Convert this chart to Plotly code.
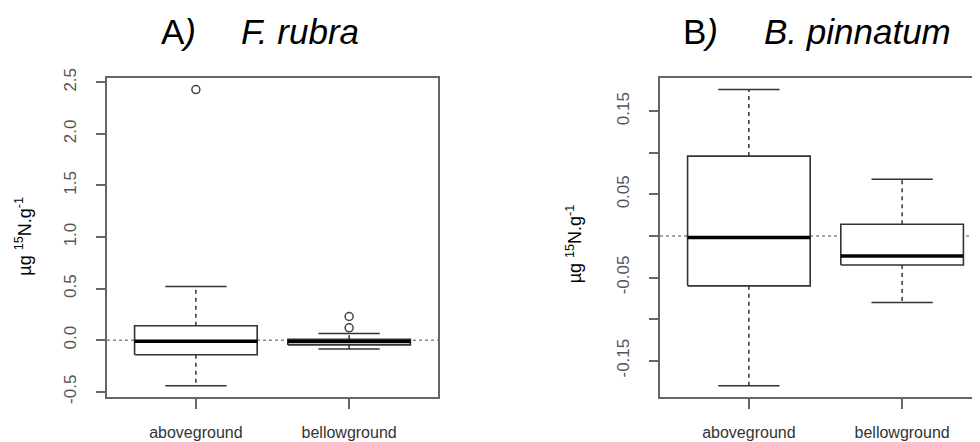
import plotly.graph_objects as go

# ---------------- data ----------------
categories = ["aboveground", "bellowground"]

# Panel A: F. rubra
a_lower = [-0.44, -0.085]
a_q1 = [-0.14, -0.045]
a_median = [-0.01, -0.012]
a_q3 = [0.14, 0.01]
a_upper = [0.52, 0.065]
a_outliers = [[2.43], [0.12, 0.23]]

# Panel B: B. pinnatum
b_lower = [-0.180, -0.080]
b_q1 = [-0.060, -0.035]
b_median = [-0.002, -0.024]
b_q3 = [0.096, 0.014]
b_upper = [0.176, 0.068]
b_outliers = [[], []]

a_tickvals = [-0.5, 0.0, 0.5, 1.0, 1.5, 2.0, 2.5]
a_ticktext = ["-0.5", "0.0", "0.5", "1.0", "1.5", "2.0", "2.5"]
b_tickvals = [-0.15, -0.05, 0.05, 0.15]
b_ticktext = ["-0.15", "-0.05", "0.05", "0.15"]
b_minor_step = 0.05

title_a = ("A<i>)</i>", "<i>F. rubra</i>")
title_b = ("B<i>)</i>", "<i>B. pinnatum</i>")
ytitle = "µg <sup>15</sup>N.g<sup>-1</sup>"

# ---------------- style ----------------
PAGE_W, PAGE_H = 980, 442
OFF = 8  # default body margin of the page
W, H = PAGE_W - OFF, PAGE_H - OFF
FONT = "Liberation Sans, Arial, sans-serif"
BOXC = "#333333"
FRAME = "#666666"
BOXW = 0.8
CAPW = 0.4


def px(x):
    return (x - OFF) / W


def py(y):
    return 1 - (y - OFF) / H


fig = go.Figure()


def add_panel(xa, ya, lower, q1, med, q3, upper, outliers):
    for i in range(len(categories)):
        x = i + 1
        for a, b in ((q3[i], upper[i]), (q1[i], lower[i])):
            fig.add_trace(go.Scatter(x=[x, x], y=[a, b], mode="lines",
                                     line=dict(color=BOXC, width=1.5, dash="4px,4px"),
                                     xaxis=xa, yaxis=ya, hoverinfo="skip", showlegend=False))
        for v in (upper[i], lower[i]):
            fig.add_trace(go.Scatter(x=[x - CAPW / 2, x + CAPW / 2], y=[v, v], mode="lines",
                                     line=dict(color=BOXC, width=1.5),
                                     xaxis=xa, yaxis=ya, hoverinfo="skip", showlegend=False))
        fig.add_trace(go.Scatter(x=[x - BOXW / 2, x + BOXW / 2, x + BOXW / 2, x - BOXW / 2, x - BOXW / 2],
                                 y=[q1[i], q1[i], q3[i], q3[i], q1[i]], mode="lines",
                                 fill="toself", fillcolor="white",
                                 line=dict(color=BOXC, width=1.6),
                                 xaxis=xa, yaxis=ya, hoverinfo="skip", showlegend=False))
        fig.add_trace(go.Scatter(x=[x - BOXW / 2, x + BOXW / 2], y=[med[i], med[i]], mode="lines",
                                 line=dict(color="black", width=3.5),
                                 xaxis=xa, yaxis=ya, hoverinfo="skip", showlegend=False))
        if outliers[i]:
            fig.add_trace(go.Scatter(x=[x] * len(outliers[i]), y=outliers[i], mode="markers",
                                     marker=dict(symbol="circle-open", size=8, color="#444",
                                                 line=dict(width=1.5, color="#444")),
                                     xaxis=xa, yaxis=ya, hoverinfo="skip", showlegend=False))


add_panel("x", "y", a_lower, a_q1, a_median, a_q3, a_upper, a_outliers)
add_panel("x2", "y2", b_lower, b_q1, b_median, b_q3, b_upper, b_outliers)


def yrange(lower, upper, outliers):
    vals = list(lower) + list(upper) + [v for o in outliers for v in o]
    lo, hi = min(vals), max(vals)
    pad = 0.04 * (hi - lo)
    return [lo - pad, hi + pad]


# page-pixel geometry of the plotting regions
ax_l, ax_r = 107, 438
bx_l = 660
plot_top, plot_bot = 70, 402
xr = [0.42, 2.58]
px_per_unit = (ax_r - ax_l) / (xr[1] - xr[0])
xr_b = [0.42, 0.42 + (PAGE_W - bx_l) / px_per_unit]

ydom = [py(plot_bot), py(plot_top)]

xcommon = dict(tickvals=[1, 2], ticktext=categories, ticks="outside", ticklen=10,
               tickwidth=1.5, tickcolor=FRAME, showline=True, linecolor=FRAME, linewidth=1.8,
               showgrid=False, zeroline=False, ticklabelstandoff=9,
               tickfont=dict(family=FONT, size=16, color="#333"))
ycommon = dict(ticks="outside", ticklen=9, tickwidth=1.5, tickcolor=FRAME, showline=True,
               linecolor=FRAME, linewidth=1.8, showgrid=False, zeroline=False,
               tickangle=-90, ticklabelstandoff=13,
               tickfont=dict(family=FONT, size=17, color="#555"))

fig.update_layout(
    width=W, height=H,
    margin=dict(l=0, r=0, t=0, b=0),
    paper_bgcolor="white", plot_bgcolor="white",
    showlegend=False,
    xaxis=dict(domain=[px(ax_l), px(ax_r)], range=xr, mirror=True, **xcommon),
    yaxis=dict(domain=ydom, range=yrange(a_lower, a_upper, a_outliers), mirror=True,
               tickvals=a_tickvals, ticktext=a_ticktext, **ycommon),
    xaxis2=dict(domain=[px(bx_l), 1.0], range=xr_b, mirror=True, anchor="y2", **xcommon),
    yaxis2=dict(domain=ydom, range=yrange(b_lower, b_upper, b_outliers), mirror=False,
                anchor="x2", tickvals=b_tickvals, ticktext=b_ticktext,
                minor=dict(ticks="outside", dtick=b_minor_step, tick0=0, ticklen=9,
                           tickwidth=1.5, tickcolor=FRAME, showgrid=False),
                **ycommon),
)

# dotted zero reference lines
for xd, yr in (("x domain", "y"), ("x2 domain", "y2")):
    fig.add_shape(type="line", xref=xd, yref=yr, x0=0, x1=1, y0=0, y1=0,
                  line=dict(color="#888", width=1.5, dash="dot"), layer="below")

# titles
tfont = dict(family=FONT, size=35, color="black")
for (lab, sp), (xl, xs) in ((title_a, (178, 300)), (title_b, (700, 857))):
    for t, xx in ((lab, xl), (sp, xs)):
        fig.add_annotation(text=t, x=px(xx), y=py(22), xref="paper", yref="paper",
                           showarrow=False, font=tfont, xanchor="center", yanchor="middle")

# y-axis titles
for xc, yc in ((24, 235), (574, 243)):
    fig.add_annotation(text=ytitle, x=px(xc), y=py(yc), xref="paper", yref="paper",
                       showarrow=False, textangle=-90,
                       font=dict(family=FONT, size=18, color="black"),
                       xanchor="center", yanchor="middle")

fig.write_html("out.html")
